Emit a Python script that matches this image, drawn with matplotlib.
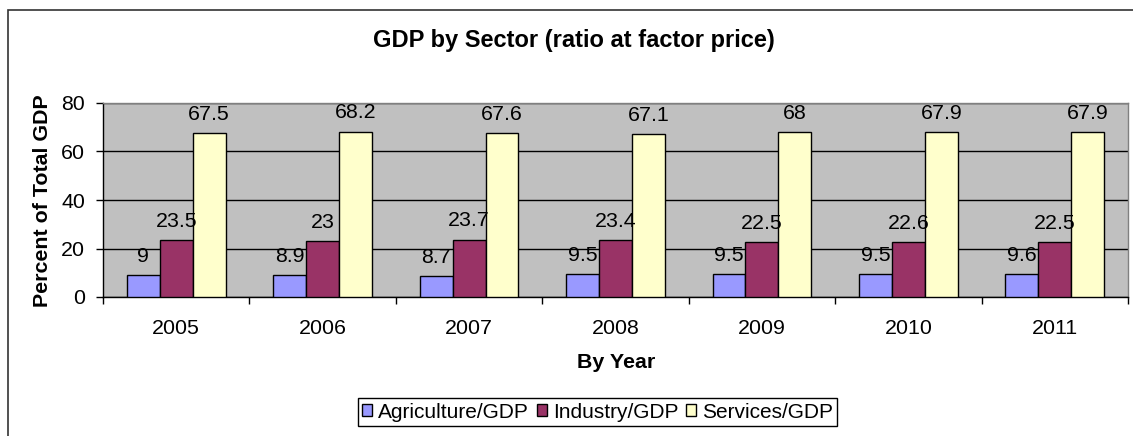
import numpy as np
import matplotlib
matplotlib.use("Agg")
import matplotlib.pyplot as plt
from matplotlib.patches import Rectangle

plt.rcParams['font.family'] = ['Liberation Sans', 'DejaVu Sans']

# GDP shares by sector, percent of total
years = ['2005', '2006', '2007', '2008', '2009', '2010', '2011']
agriculture = [9, 8.9, 8.7, 9.5, 9.5, 9.5, 9.6]
industry = [23.5, 23, 23.7, 23.4, 22.5, 22.6, 22.5]
services = [67.5, 68.2, 67.6, 67.1, 68, 67.9, 67.9]

series_names = ['Agriculture/GDP', 'Industry/GDP', 'Services/GDP']
series_colors = ['#9999FF', '#993366', '#FFFFCC']

FS = 15.4
W, H = 1133, 436
fig = plt.figure(figsize=(W / 100, H / 100), dpi=100)
ax = fig.add_axes([103 / W, 1 - 297 / H, 1025 / W, 194 / H])
ax.set_facecolor('#C0C0C0')

x = np.arange(len(years))
width = 0.225
for k, (vals, name, col) in enumerate(zip([agriculture, industry, services], series_names, series_colors)):
    pos = x + (k - 1) * width
    ax.bar(pos, vals, width, color=col, edgecolor='black', linewidth=1, label=name, zorder=3)
    for px, v in zip(pos, vals):
        ax.annotate('{:g}'.format(v), (px, v), xytext=(0, 9.5), textcoords='offset points',
                    ha='center', va='baseline', fontsize=FS, zorder=4)

ax.set_xlim(-0.5, len(years) - 0.5)
ax.set_ylim(0, 80)
ax.set_yticks([0, 20, 40, 60, 80])
ax.set_xticks(x)
ax.set_xticklabels(years)
ax.set_xticks(np.arange(len(years) + 1) - 0.5, minor=True)
ax.tick_params(axis='x', which='major', length=0, labelsize=FS, pad=16)
ax.tick_params(axis='x', which='minor', length=5, width=1, color='black', direction='out')
ax.tick_params(axis='y', length=5, width=1, color='black', direction='out', labelsize=FS, pad=8)

ax.yaxis.grid(True, color='black', linewidth=1)
ax.set_axisbelow(True)

for side in ['left', 'bottom']:
    ax.spines[side].set_color('black')
    ax.spines[side].set_linewidth(1)
for side in ['top', 'right']:
    ax.spines[side].set_color('#808080')
    ax.spines[side].set_linewidth(1)

# Titles
fig.text(574 / W, 1 - 41 / H, 'GDP by Sector (ratio at factor price)', ha='center', va='center',
         fontsize=17, fontweight='bold')
fig.text(42.5 / W, 1 - 201 / H, 'Percent of Total GDP', ha='center', va='center', rotation=90,
         fontsize=FS, fontweight='bold')
fig.text(616 / W, 1 - 363 / H, 'By Year', ha='center', va='center', fontsize=FS, fontweight='bold')

# Legend under the plot
leg = fig.legend(loc='center', bbox_to_anchor=(597.5 / W, 1 - 412 / H), ncol=3, fontsize=15,
                 frameon=True, fancybox=False, edgecolor='black', framealpha=1,
                 handlelength=0.48, handleheight=0.5, handletextpad=0.3, columnspacing=0.35,
                 borderpad=0.2, borderaxespad=0)
leg.get_frame().set_linewidth(1)

# Outer chart border (runs past the right and bottom edges)
fig.patches.append(Rectangle((8 / W, -0.2), 1.2, (H - 10) / H + 0.2, transform=fig.transFigure,
                             fill=False, edgecolor='#333333', linewidth=1.2))

fig.savefig('out.png', dpi=100, facecolor='white')
